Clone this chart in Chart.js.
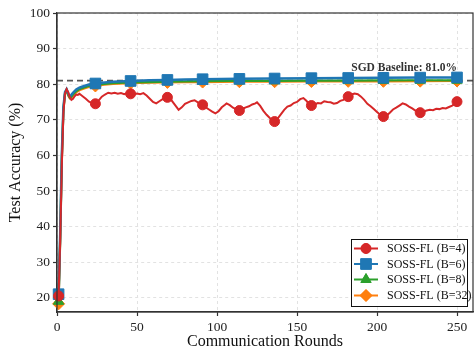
<!DOCTYPE html>
<html>
<head>
<meta charset="utf-8">
<script src="https://cdn.jsdelivr.net/npm/chart.js@4.4.1/dist/chart.umd.min.js"></script>
<style>
  html, body { margin: 0; padding: 0; background: #fff; }
  #wrap { width: 475px; height: 350px; position: relative; }
</style>
</head>
<body>
<div id="wrap"><canvas id="c" width="475" height="350"></canvas></div>
<script>
// Rounds at which the B=4 run was logged, and its accuracy
const redRounds = [1,2,3,4,5,6,7,8,9,10,11,12,13,14,16,18,20,22,24,26,28,30,32,34,36,38,40,42,44,46,48,50,52,54,56,58,60,62,64,66,69,71,73,75,76,78,80,82,84,86,88,91,93,95,97,99,101,103,105,106,108,110,112,114,116,118,120,122,124,125,127,129,131,133,135,136,138,140,142,144,146,148,150,152,154,156,157,159,161,163,165,167,169,171,173,175,177,179,182,184,186,188,190,192,194,196,198,200,202,204,206,208,210,212,214,216,218,220,222,224,227,229,231,233,235,237,239,241,243,245,247,249,250];
const accB4 = [20.5,36.0,57.0,72.0,77.4,78.6,77.8,76.3,75.6,75.9,76.6,77.1,77.0,77.3,76.6,75.9,75.1,74.7,74.5,75.4,76.5,77.1,77.6,77.4,77.6,77.3,77.5,77.2,77.5,77.3,77.1,77.4,77.2,77.5,76.8,75.9,75.0,74.6,75.2,75.8,76.3,75.8,74.6,73.4,72.8,73.5,74.5,74.9,75.3,75.5,74.9,74.2,73.5,72.9,72.3,71.8,72.4,73.5,74.2,74.6,74.1,73.4,73.0,72.6,73.1,73.5,73.8,74.3,74.6,74.9,73.9,72.5,71.4,70.5,69.8,69.5,70.4,71.6,72.8,73.7,74.0,74.7,75.0,75.8,76.1,75.3,74.6,74.0,74.3,74.7,74.6,75.2,75.0,74.9,74.5,74.7,75.3,75.6,76.5,77.1,77.4,77.2,76.5,75.6,74.5,73.8,73.0,72.2,71.4,70.9,71.2,72.0,72.9,73.4,74.0,74.6,74.3,73.7,73.2,72.6,72.0,72.3,72.6,72.8,72.7,73.1,73.0,73.3,73.2,73.6,74.0,74.6,75.1];

// Rounds logged for the larger-batch runs
const rounds = [1,2,3,4,5,6,7,8,9,10,12,14,17,20,24,28,35,46,58,69,80,91,114,136,159,182,204,227,250];
const accB6  = [21.0,38.0,60.0,73.5,77.8,78.6,77.4,76.6,77.0,77.6,78.5,79.0,79.5,79.9,80.2,80.4,80.7,80.9,81.1,81.2,81.3,81.4,81.5,81.6,81.7,81.75,81.8,81.85,81.9];
const accB8  = [19.0,37.0,59.0,73.0,77.5,78.4,77.0,76.2,76.5,77.1,78.0,78.6,79.1,79.5,79.8,80.0,80.3,80.5,80.6,80.7,80.8,80.85,80.9,80.95,81.0,81.0,81.05,81.1,81.1];
const accB32 = [18.3,36.0,58.0,72.5,77.2,78.2,76.8,76.0,76.2,76.8,77.7,78.3,78.8,79.2,79.5,79.8,80.1,80.3,80.4,80.5,80.6,80.6,80.7,80.7,80.75,80.8,80.8,80.85,80.9];

// Rounds that carry a marker on every curve
const markerRounds = [1,24,46,69,91,114,136,159,182,204,227,250];

const xTicks = [0,50,100,150,200,250];
const yTicks = [20,30,40,50,60,70,80,90,100];
const sgdBaseline = 81.0;

const seriesNames = ['SOSS-FL (B=4)','SOSS-FL (B=6)','SOSS-FL (B=8)','SOSS-FL (B=32)'];
const seriesColors = ['#d62728','#1f77b4','#2ca02c','#ff7f0e'];
const seriesShapes = ['circle','rect','triangle','rectRot'];
const shapeRadius = {circle: 5, rect: 7.5, triangle: 6, rectRot: 6};

const SERIF = '"Liberation Serif", "DejaVu Serif", serif';

function toPoints(xs, ys) { return xs.map((x, i) => ({x: x, y: ys[i]})); }

function makeDataset(i, xs, ys, width) {
  const shape = seriesShapes[i];
  return {
    label: seriesNames[i],
    data: toPoints(xs, ys),
    borderColor: seriesColors[i],
    backgroundColor: seriesColors[i],
    borderWidth: width,
    pointStyle: shape,
    pointRadius: ctx => markerRounds.includes(ctx.raw && ctx.raw.x) ? shapeRadius[shape] : 0,
    pointBorderWidth: 1,
    pointBorderColor: seriesColors[i],
    pointBackgroundColor: seriesColors[i],
    pointHoverRadius: 0,
    tension: 0,
    clip: false
  };
}

// Frame, baseline reference line and legend box
const decorations = {
  id: 'decorations',
  beforeDatasetsDraw(chart) {
    const {ctx, chartArea: a, scales} = chart;
    const y = scales.y.getPixelForValue(sgdBaseline);
    ctx.save();
    ctx.strokeStyle = '#555';
    ctx.lineWidth = 1.6;
    ctx.setLineDash([6, 4]);
    ctx.beginPath();
    ctx.moveTo(a.left, y);
    ctx.lineTo(a.right, y);
    ctx.stroke();
    ctx.restore();
  },
  afterDraw(chart) {
    const {ctx, chartArea: a, scales} = chart;
    ctx.save();
    // outer frame
    ctx.strokeStyle = '#333';
    ctx.lineWidth = 1.2;
    ctx.strokeRect(a.left, a.top, a.right - a.left, a.bottom - a.top);

    // baseline annotation
    ctx.fillStyle = '#333';
    ctx.font = 'bold 11.5px ' + SERIF;
    ctx.textAlign = 'right';
    ctx.textBaseline = 'alphabetic';
    ctx.fillText('SGD Baseline: 81.0%', scales.x.getPixelForValue(250), scales.y.getPixelForValue(83.7));

    // legend
    const bx = 351, by = 239, bw = 116, bh = 67;
    ctx.fillStyle = 'rgba(255,255,255,0.9)';
    ctx.fillRect(bx, by, bw, bh);
    ctx.strokeStyle = '#111';
    ctx.lineWidth = 1;
    ctx.strokeRect(bx + 0.5, by + 0.5, bw, bh);
    const rowY = [248.5, 264, 279.5, 295.5];
    for (let i = 0; i < seriesNames.length; i++) {
      const yy = rowY[i];
      ctx.strokeStyle = seriesColors[i];
      ctx.lineWidth = 2;
      ctx.beginPath();
      ctx.moveTo(354, yy);
      ctx.lineTo(378, yy);
      ctx.stroke();
      ctx.fillStyle = seriesColors[i];
      ctx.lineWidth = 1;
      Chart.helpers.drawPoint(ctx, {pointStyle: seriesShapes[i], radius: shapeRadius[seriesShapes[i]], rotation: 0, borderWidth: 1}, 366, yy);
      ctx.fill();
      ctx.fillStyle = '#111';
      ctx.font = '12px ' + SERIF;
      ctx.textAlign = 'left';
      ctx.textBaseline = 'middle';
      ctx.fillText(seriesNames[i], 387, yy + 0.5);
    }
    ctx.restore();
  }
};

new Chart(document.getElementById('c'), {
  type: 'line',
  data: {
    datasets: [
      makeDataset(0, redRounds, accB4, 2),
      makeDataset(1, rounds, accB6, 2.5),
      makeDataset(2, rounds, accB8, 2.2),
      makeDataset(3, rounds, accB32, 2.2)
    ]
  },
  options: {
    responsive: false,
    animation: false,
    events: [],
    layout: {autoPadding: false, padding: {top: 13, right: 2, left: 0, bottom: 0}},
    plugins: {legend: {display: false}, tooltip: {enabled: false}},
    scales: {
      x: {
        type: 'linear',
        min: 0,
        max: 260,
        afterBuildTicks: s => { s.ticks = xTicks.map(v => ({value: v})); },
        afterFit: s => { s.height = 38; s.paddingLeft = 0; s.paddingRight = 0; },
        grid: {color: '#e2e2e2', lineWidth: 1, tickLength: 4, tickColor: '#333', tickWidth: 1.2, tickBorderDash: []},
        border: {display: true, color: '#333', width: 1.2, dash: [3, 3]},
        ticks: {color: '#222', font: {family: SERIF, size: 13.5}, padding: 3, maxRotation: 0, autoSkip: false},
        title: {display: true, text: 'Communication Rounds', color: '#111', font: {family: SERIF, size: 16, lineHeight: 1}, padding: {top: 0, bottom: 0}}
      },
      y: {
        type: 'linear',
        min: 16,
        max: 100,
        afterBuildTicks: s => { s.ticks = yTicks.map(v => ({value: v})); },
        afterFit: s => { s.width = 57; s.paddingTop = 0; s.paddingBottom = 0; },
        grid: {color: '#e2e2e2', lineWidth: 1, tickLength: 4, tickColor: '#333', tickWidth: 1.2, tickBorderDash: []},
        border: {display: true, color: '#333', width: 1.2, dash: [3, 3]},
        ticks: {color: '#222', font: {family: SERIF, size: 13.5}, padding: 3, autoSkip: false},
        title: {display: true, text: 'Test Accuracy (%)', color: '#111', font: {family: SERIF, size: 16, lineHeight: 1}, padding: {top: 8, bottom: 0}}
      }
    }
  },
  plugins: [decorations]
});
</script>
</body>
</html>
